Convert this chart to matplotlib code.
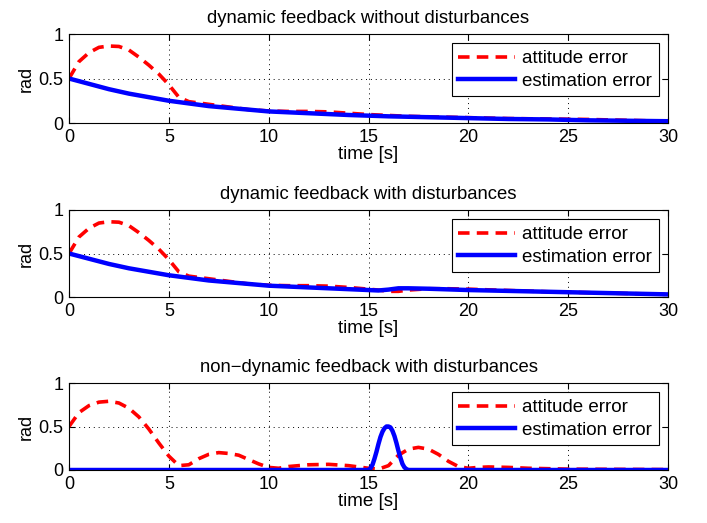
import matplotlib
matplotlib.use("Agg")
import matplotlib.pyplot as plt

plt.rcParams['font.family'] = ['Liberation Sans', 'DejaVu Sans']

titles = ["dynamic feedback without disturbances",
          "dynamic feedback with disturbances",
          "non\u2212dynamic feedback with disturbances"]
legend_labels = ["attitude error", "estimation error"]
xticks = [0, 5, 10, 15, 20, 25, 30]
yticks = [0, 0.5, 1]
ytick_labels = ["0", "0.5", "1"]

# Panel 1
t_att1 = [0, 0.5, 1, 1.5, 2, 2.5, 3, 3.5, 4, 4.5, 5, 5.5, 6, 7, 8, 9, 10, 11, 12, 13, 14, 15, 16, 17, 18, 19, 20, 22, 24, 26, 28, 30]
att1 = [0.50, 0.69, 0.79, 0.85, 0.865, 0.86, 0.82, 0.74, 0.65, 0.55, 0.43, 0.29, 0.24, 0.21, 0.18, 0.15, 0.135, 0.13, 0.13, 0.125, 0.11, 0.095, 0.085, 0.075, 0.07, 0.065, 0.06, 0.05, 0.045, 0.04, 0.03, 0.02]
t_est1 = [0, 1, 2, 3, 4, 5, 6, 7, 8, 9, 10, 12, 14, 16, 18, 20, 22, 24, 26, 28, 30]
est1 = [0.50, 0.44, 0.38, 0.33, 0.29, 0.25, 0.22, 0.19, 0.17, 0.15, 0.13, 0.11, 0.09, 0.075, 0.065, 0.055, 0.045, 0.04, 0.03, 0.025, 0.02]

# Panel 2
t_att2 = [0, 0.5, 1, 1.5, 2, 2.5, 3, 3.5, 4, 4.5, 5, 5.5, 6, 7, 8, 9, 10, 11, 12, 13, 14, 15, 15.5, 16, 16.5, 17, 18, 19, 20, 22, 24, 26, 28, 30]
att2 = [0.50, 0.69, 0.79, 0.85, 0.865, 0.86, 0.82, 0.74, 0.65, 0.55, 0.43, 0.29, 0.24, 0.21, 0.18, 0.15, 0.135, 0.13, 0.13, 0.125, 0.11, 0.09, 0.08, 0.065, 0.065, 0.08, 0.095, 0.095, 0.09, 0.075, 0.06, 0.05, 0.04, 0.03]
t_est2 = [0, 1, 2, 3, 4, 5, 6, 7, 8, 9, 10, 12, 14, 15, 15.5, 16, 16.5, 17, 18, 20, 22, 24, 26, 28, 30]
est2 = [0.50, 0.44, 0.38, 0.33, 0.29, 0.25, 0.22, 0.19, 0.17, 0.15, 0.13, 0.11, 0.09, 0.08, 0.075, 0.085, 0.10, 0.10, 0.095, 0.08, 0.07, 0.06, 0.05, 0.04, 0.03]

# Panel 3
t_att3 = [0, 0.5, 1, 1.5, 2, 2.5, 3, 3.5, 4, 4.5, 5, 5.5, 6, 6.5, 7, 7.5, 8, 8.5, 9, 9.5, 10, 10.5, 11, 12, 13, 14, 15, 15.5, 16, 16.5, 17, 17.5, 18, 18.5, 19, 19.5, 20, 20.5, 21, 22, 23, 25, 30]
att3 = [0.50, 0.66, 0.74, 0.78, 0.79, 0.77, 0.71, 0.61, 0.47, 0.31, 0.16, 0.05, 0.06, 0.13, 0.18, 0.20, 0.19, 0.17, 0.12, 0.07, 0.03, 0.02, 0.04, 0.06, 0.065, 0.05, 0.02, 0.01, 0.05, 0.17, 0.24, 0.26, 0.24, 0.18, 0.10, 0.04, 0.02, 0.03, 0.035, 0.03, 0.02, 0.01, 0.005]
t_est3 = [0, 15, 15.1, 15.2, 15.3, 15.4, 15.5, 15.6, 15.7, 15.8, 15.9, 16, 16.1, 16.2, 16.3, 16.4, 16.5, 16.6, 16.7, 16.8, 16.9, 17, 30]
est3 = [0, 0, 0.02, 0.06, 0.13, 0.21, 0.30, 0.38, 0.44, 0.48, 0.50, 0.50, 0.49, 0.45, 0.39, 0.31, 0.22, 0.14, 0.07, 0.03, 0.01, 0, 0]

series = [(t_att1, att1, t_est1, est1),
          (t_att2, att2, t_est2, est2),
          (t_att3, att3, t_est3, est3)]

fig = plt.figure(figsize=(7.07, 5.23), dpi=100)
left = 69 / 707
width = (668 - 69) / 707
tops = [34, 210, 383]
bottoms = [123, 297, 470]

for i, (ta, a, te, e) in enumerate(series):
    ax = fig.add_axes([left, 1 - bottoms[i] / 523, width, (bottoms[i] - tops[i]) / 523])
    ax.plot(ta, a, color='red', linestyle=(0, (3.2, 2.0)), linewidth=2.6, label=legend_labels[0])
    ax.plot(te, e, color='blue', linestyle='-', linewidth=3.2, label=legend_labels[1])
    ax.set_xlim(0, 30)
    ax.set_ylim(0, 1)
    ax.set_xticks(xticks)
    ax.set_yticks(yticks)
    ax.set_yticklabels(ytick_labels)
    ax.grid(True, color='black', linestyle=(0, (1, 4)), linewidth=0.7)
    ax.tick_params(direction='in', top=True, right=True, labelsize=13, length=4, width=0.8, pad=4)
    for s in ax.spines.values():
        s.set_linewidth(0.8)
    ax.set_xlabel("time [s]", fontsize=13.5, labelpad=0)
    ax.set_ylabel("rad", fontsize=13, labelpad=3)
    ax.set_title(titles[i], fontsize=13.3, pad=8)
    leg = ax.legend(loc='upper right', fontsize=13.5, frameon=True, fancybox=False,
                    edgecolor='black', framealpha=1, borderaxespad=0.5,
                    handlelength=3.0, handletextpad=0.4, borderpad=0.35, labelspacing=0.3)
    leg.get_frame().set_linewidth(0.8)

fig.savefig("out.png", dpi=100)
